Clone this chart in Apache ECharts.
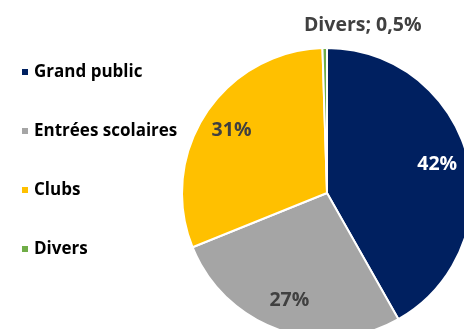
<!DOCTYPE html>
<html>
<head>
<meta charset="utf-8">
<script src="https://cdn.jsdelivr.net/npm/echarts@6/dist/echarts.min.js"></script>
<style>html,body{margin:0;padding:0;background:#fff;}#c{width:464px;height:329px;}</style>
</head>
<body>
<div id="c"></div>
<script>
const categories = ['Grand public', 'Entrées scolaires', 'Clubs', 'Divers'];
const values = [41.8, 27.1, 30.6, 0.5];
const colors = ['#002060', '#A5A5A5', '#FFC000', '#70AD47'];
const labelColors = ['#FFFFFF', '#404040', '#404040', '#404040'];

const FONT = 'Open Sans';
const chart = echarts.init(document.getElementById('c'), null, {renderer: 'canvas'});
const data = categories.map((n, i) => ({name: n, value: values[i], itemStyle: {color: colors[i]}}));
const fmtPct = v => (Math.round(v * 10) / 10).toString().replace('.', ',') + '%';

chart.setOption({
  animation: false,
  legend: {
    orient: 'vertical', left: 15, top: 57, padding: 5,
    itemWidth: 8, itemHeight: 8, itemGap: 39,
    icon: 'rect',
    textStyle: {fontFamily: FONT, fontWeight: 'bold', fontSize: 17, color: '#000', lineHeight: 20, padding: [0,0,0,0]},
    data: categories
  },
  series: [
    {
      type: 'pie', center: [327, 193], radius: [0, 145], startAngle: 90, clockwise: true,
      silent: true,
      itemStyle: {borderColor: '#fff', borderWidth: 2},
      label: {show: false}, labelLine: {show: false},
      data: data.map((d, i) => i === 3 ? Object.assign({}, d, {
        label: {show: true, position: 'outside', fontFamily: FONT, fontWeight: 'bold', fontSize: 19.5, color: '#404040',
          formatter: p => p.name + '; ' + fmtPct(p.value)},
        labelLine: {show: false}
      }) : d),
      labelLayout: p => p.dataIndex === 3 ? {x: p.rect.x + p.rect.width / 2 + 38, y: p.rect.y - 22, align: 'center', verticalAlign: 'middle'} : {}
    },
    {
      type: 'pie', center: [327, 193], radius: [0, 222], startAngle: 90, clockwise: true,
      silent: true, legendHoverLink: false,
      itemStyle: {color: 'rgba(0,0,0,0)', borderWidth: 0},
      labelLine: {show: false},
      label: {show: true, position: 'inside', fontFamily: FONT, fontWeight: 'bold', fontSize: 19.5,
        formatter: p => Math.round(p.value) + '%'},
      data: categories.map((n, i) => ({name: n, value: values[i],
        label: {show: i < 3, color: labelColors[i]}}))
    }
  ]
});
</script>
</body>
</html>
